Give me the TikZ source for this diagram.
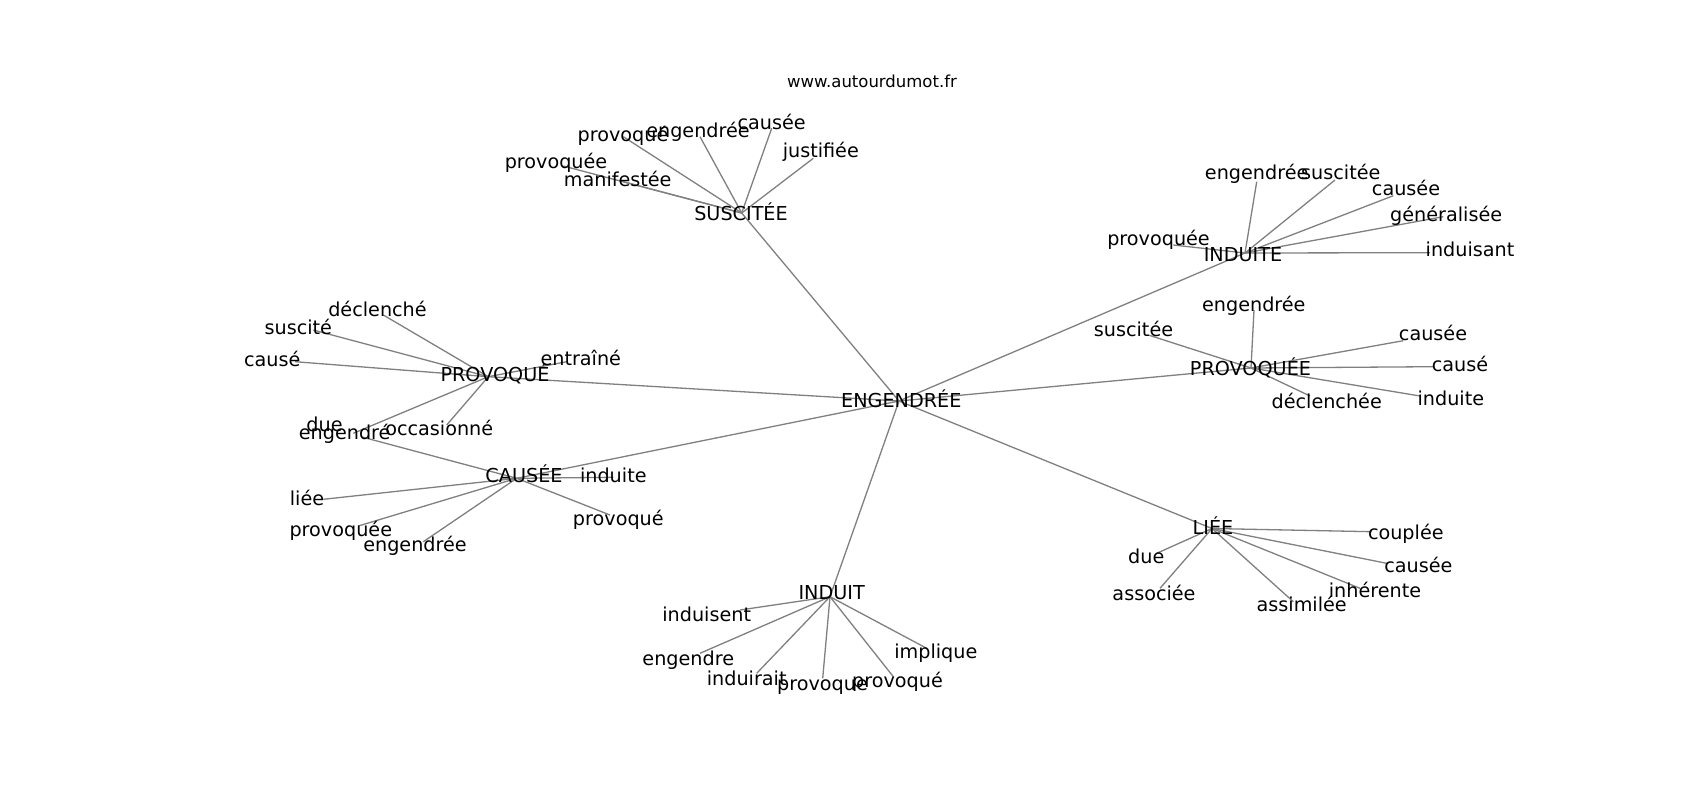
\documentclass[tikz,border=0pt]{standalone}
\usepackage{fontspec}
\setmainfont{DejaVu Sans}
\definecolor{edgegray}{RGB}{128,128,128}
\tikzset{
  lbl/.style={font=\fontsize{19.2}{23}\selectfont, anchor=base, inner sep=0pt, text=black},
  ttl/.style={font=\fontsize{16.5}{20}\selectfont, anchor=base, inner sep=0pt, text=black},
  edge/.style={draw=edgegray, line width=1.3pt}
}
\begin{document}
\begin{tikzpicture}[x=1pt,y=-1pt]
\useasboundingbox[fill=white] (0,0) rectangle (1700,800);
% hub points
\coordinate (E)  at (899,401);
\coordinate (S)  at (741.7,213);
\coordinate (IE) at (1245,253);
\coordinate (PE) at (1251,368);
\coordinate (L)  at (1212,528.5);
\coordinate (IT) at (830,596.7);
\coordinate (C)  at (516.7,478.3);
\coordinate (P)  at (488.3,376.7);
% leaf points: SUSCITEE
\coordinate (s1) at (623.3,136.7);
\coordinate (s2) at (700,136.7);
\coordinate (s3) at (771.7,128.3);
\coordinate (s4) at (813.3,158.3);
\coordinate (s5) at (563.3,166);
\coordinate (s6) at (623.3,181.7);
% INDUITE
\coordinate (ie1) at (1256.7,181.7);
\coordinate (ie2) at (1335,180);
\coordinate (ie3) at (1393.3,195.7);
\coordinate (ie4) at (1443.3,216.7);
\coordinate (ie5) at (1430,252.7);
\coordinate (ie6) at (1173.3,245);
% PROVOQUEE
\coordinate (pe1) at (1254,310);
\coordinate (pe2) at (1148.3,335);
\coordinate (pe3) at (1403.3,340.7);
\coordinate (pe4) at (1433.3,366.7);
\coordinate (pe5) at (1420,396);
\coordinate (pe6) at (1310,396);
% LIEE
\coordinate (l1) at (1371.7,531.7);
\coordinate (l2) at (1386.7,563.3);
\coordinate (l3) at (1360,588.3);
\coordinate (l4) at (1293.3,601.7);
\coordinate (l5) at (1156.7,553.3);
\coordinate (l6) at (1160,588.3);
% INDUIT
\coordinate (it1) at (740,610);
\coordinate (it2) at (700,653.3);
\coordinate (it3) at (756.7,673.3);
\coordinate (it4) at (822.7,678.3);
\coordinate (it5) at (893.3,676.7);
\coordinate (it6) at (926.7,648.3);
% CAUSEE
\coordinate (c1) at (613.3,477.3);
\coordinate (c2) at (323.3,499.3);
\coordinate (c3) at (358.3,526);
\coordinate (c4) at (423.3,541.7);
\coordinate (c5) at (610,515);
\coordinate (c6) at (362,437);
% PROVOQUE
\coordinate (p1) at (383.3,315);
\coordinate (p2) at (313.3,330);
\coordinate (p3) at (295,361.7);
\coordinate (p4) at (566.7,361.7);
\coordinate (p5) at (446.7,425);
\coordinate (p6) at (353.3,433.3);
% edges
\foreach \h in {S,IE,PE,L,IT,C,P} \draw[edge] (E) -- (\h);
\foreach \k in {1,...,6} {
  \draw[edge] (S) -- (s\k);
  \draw[edge] (IE) -- (ie\k);
  \draw[edge] (PE) -- (pe\k);
  \draw[edge] (L) -- (l\k);
  \draw[edge] (IT) -- (it\k);
  \draw[edge] (C) -- (c\k);
  \draw[edge] (P) -- (p\k);
}
% title
\node[ttl] (title) at (872,88) {www.autourdumot.fr};
% hub labels
\node[lbl] (tE)  at (901.3,407.8) {ENGENDRÉE};
\node[lbl] (tS)  at (741,220) {SUSCITÉE};
\node[lbl] (tIE) at (1243,261.7) {INDUITE};
\node[lbl] (tPE) at (1250.5,375) {PROVOQUÉE};
\node[lbl] (tL)  at (1213,534) {LIÉE};
\node[lbl] (tIT) at (831.7,599.3) {INDUIT};
\node[lbl] (tC)  at (524,482.3) {CAUSÉE};
\node[lbl] (tP)  at (495,381.7) {PROVOQUÉ};
% SUSCITEE leaves
\node[lbl] (ts1) at (623,141.7) {provoqué};
\node[lbl] (ts2) at (698,137.3) {engendrée};
\node[lbl] (ts3) at (771.7,129) {causée};
\node[lbl] (ts4) at (820.8,157.7) {justifiée};
\node[lbl] (ts5) at (556,168.3) {provoquée};
\node[lbl] (ts6) at (617.7,186) {manifestée};
% INDUITE leaves
\node[lbl] (tie1) at (1256.7,179.3) {engendrée};
\node[lbl] (tie2) at (1340.8,179.3) {suscitée};
\node[lbl] (tie3) at (1406,195.7) {causée};
\node[lbl] (tie4) at (1446.2,221.7) {généralisée};
\node[lbl] (tie5) at (1470,256) {induisant};
\node[lbl] (tie6) at (1158.5,245) {provoquée};
% PROVOQUEE leaves
\node[lbl] (tpe1) at (1253.8,311.7) {engendrée};
\node[lbl] (tpe2) at (1133.5,336) {suscitée};
\node[lbl] (tpe3) at (1433,340.7) {causée};
\node[lbl] (tpe4) at (1460,371) {causé};
\node[lbl] (tpe5) at (1450.8,405) {induite};
\node[lbl] (tpe6) at (1326.7,408.3) {déclenchée};
% LIEE leaves
\node[lbl] (tl1) at (1405.8,539.3) {couplée};
\node[lbl] (tl2) at (1418.3,572.3) {causée};
\node[lbl] (tl3) at (1375,597.3) {inhérente};
\node[lbl] (tl4) at (1301.7,611.7) {assimilée};
\node[lbl] (tl5) at (1146.3,563.3) {due};
\node[lbl] (tl6) at (1154,600.7) {associée};
% INDUIT leaves
\node[lbl] (tit1) at (706.7,621.7) {induisent};
\node[lbl] (tit2) at (688.3,665) {engendre};
\node[lbl] (tit3) at (746.7,685) {induirait};
\node[lbl] (tit4) at (822.5,690) {provoque};
\node[lbl] (tit5) at (897.5,687.3) {provoqué};
\node[lbl] (tit6) at (935.8,658.3) {implique};
% CAUSEE leaves
\node[lbl] (tc1) at (613.3,482.3) {induite};
\node[lbl] (tc2) at (307,505) {liée};
\node[lbl] (tc3) at (340.8,536.7) {provoquée};
\node[lbl] (tc4) at (415,551.7) {engendrée};
\node[lbl] (tc5) at (618.3,525) {provoqué};
\node[lbl] (tc6) at (324.5,431.7) {due};
% PROVOQUE leaves
\node[lbl] (tp1) at (377.5,316.7) {déclenché};
\node[lbl] (tp2) at (298.3,334) {suscité};
\node[lbl] (tp3) at (272.2,366) {causé};
\node[lbl] (tp4) at (580.8,365) {entraîné};
\node[lbl] (tp5) at (439.2,435.7) {occasionné};
\node[lbl] (tp6) at (344.7,439) {engendré};
\end{tikzpicture}
\end{document}
